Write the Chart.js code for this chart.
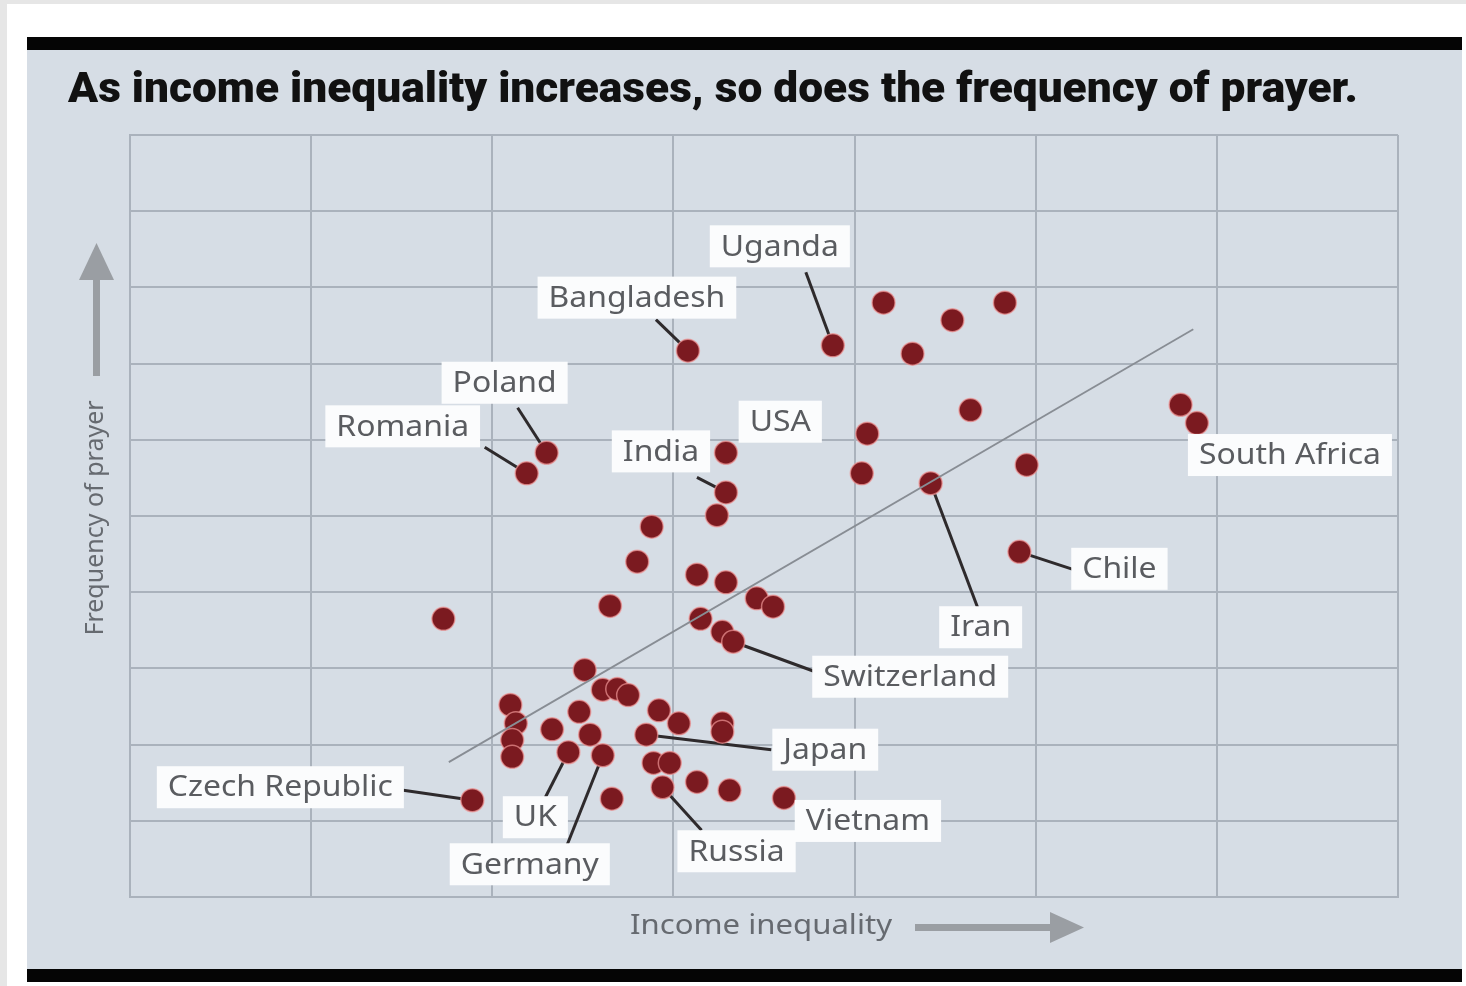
<!DOCTYPE html>
<html>
<head>
<meta charset="utf-8">
<script src="https://cdn.jsdelivr.net/npm/chart.js@4/dist/chart.umd.min.js"></script>
<style>
  html, body { margin: 0; padding: 0; background: #e6e6e6; }
  canvas { display: block; }
</style>
</head>
<body>
<canvas id="prayerChart" width="1466" height="986"></canvas>
<script>
// values (x: income inequality, y: frequency of prayer, arbitrary grid units)
const country = ["Uganda", "Bangladesh", "", "", "", "", "", "USA", "", "", "Iran", "", "India",
  "Poland", "Romania", "", "", "", "", "", "", "", "", "", "", "", "Switzerland", "Chile", "",
  "South Africa", "", "", "", "", "", "", "", "", "", "", "", "UK", "Germany", "", "", "", "",
  "Japan", "", "", "Russia", "", "", "Vietnam", "Czech Republic", ""];
const inequality = [3.88, 3.08, 4.16, 4.83, 4.54, 4.32, 4.64, 4.07, 3.29, 4.04, 4.42, 4.95, 3.29,
  2.30, 2.19, 3.24, 2.88, 2.80, 3.13, 3.29, 3.46, 3.55, 2.65, 1.73, 3.15, 3.27, 3.33, 4.91, 5.80,
  5.89, 2.51, 2.61, 2.69, 2.75, 2.10, 2.13, 2.11, 2.11, 2.48, 2.33, 2.54, 2.42, 2.61, 2.92, 3.03,
  3.27, 3.27, 2.85, 2.89, 2.98, 2.94, 3.13, 3.31, 3.61, 1.89, 2.66];
const prayer = [7.24, 7.17, 7.80, 7.80, 7.57, 7.13, 6.39, 6.08, 5.83, 5.56, 5.43, 5.67, 5.31,
  5.83, 5.56, 5.01, 4.86, 4.40, 4.23, 4.13, 3.92, 3.81, 3.82, 3.65, 3.65, 3.48, 3.35, 4.53, 6.46,
  6.22, 2.98, 2.72, 2.73, 2.65, 2.52, 2.28, 2.06, 1.84, 2.43, 2.20, 2.13, 1.90, 1.86, 2.45, 2.28,
  2.28, 2.17, 2.13, 1.76, 1.76, 1.44, 1.51, 1.40, 1.30, 1.27, 1.29];
const trendX = [1.76, 5.87];
const trendY = [1.77, 7.45];

// label boxes: offset of box centre and leader end from the dot, in pixels
const labelPlacement = {
  "Uganda": { dx: -53, dy: -99, lx: -27, ly: -73 },
  "Bangladesh": { dx: -51, dy: -53, lx: -32, ly: -31 },
  "Poland": { dx: -42, dy: -70, lx: -29, ly: -45 },
  "Romania": { dx: -124, dy: -47, lx: -42, ly: -26 },
  "India": { dx: -65, dy: -41, lx: -29, ly: -15 },
  "USA": { dx: -87, dy: -12 },
  "South Africa": { dx: 93, dy: 32 },
  "Chile": { dx: 100, dy: 17, lx: 55, ly: 18 },
  "Iran": { dx: 50, dy: 144, lx: 48, ly: 127 },
  "Switzerland": { dx: 177, dy: 35, lx: 82, ly: 30 },
  "Japan": { dx: 179, dy: 15, lx: 125, ly: 15 },
  "Czech Republic": { dx: -192, dy: -13, lx: -69, ly: -10 },
  "UK": { dx: -33, dy: 65, lx: -23, ly: 45 },
  "Germany": { dx: -73, dy: 109, lx: -37, ly: 93 },
  "Russia": { dx: 74, dy: 64, lx: 39, ly: 43 },
  "Vietnam": { dx: 84, dy: 23 }
};

const points = inequality.map((x, i) => ({ x: x, y: prayer[i] }));
const trend = trendX.map((x, i) => ({ x: x, y: trendY[i] }));

const LABEL_STRETCH = 1.1;

const frame = {
  id: "frame",
  beforeDraw(chart) {
    const ctx = chart.ctx;
    ctx.save();
    ctx.fillStyle = "#e6e6e6";
    ctx.fillRect(0, 0, 1466, 986);
    ctx.fillStyle = "#ffffff";
    ctx.fillRect(7, 4, 1459, 982);
    ctx.fillStyle = "#d6dde5";
    ctx.fillRect(27, 50, 1435, 920);
    ctx.fillStyle = "#050505";
    ctx.fillRect(27, 37, 1435, 13);
    ctx.fillRect(27, 969, 1435, 13);

    // title, squeezed to the width of the original
    ctx.fillStyle = "#111111";
    ctx.font = "900 43px Roboto";
    ctx.textBaseline = "alphabetic";
    const title = "As income inequality increases, so does the frequency of prayer.";
    const w = ctx.measureText(title).width;
    ctx.save();
    ctx.translate(68, 102);
    ctx.scale(1290 / w, 1);
    ctx.fillText(title, 0, 0);
    ctx.restore();

    // axis titles with arrows
    ctx.fillStyle = "#666a70";
    ctx.font = "28px 'Noto Sans'";
    ctx.textAlign = "center";
    ctx.textBaseline = "middle";
    ctx.save();
    ctx.translate(761, 926);
    ctx.scale(262 / ctx.measureText("Income inequality").width, 1);
    ctx.fillText("Income inequality", 0, 0);
    ctx.restore();
    ctx.fillStyle = "#9a9ea3";
    ctx.fillRect(915, 924, 140, 7);
    ctx.beginPath();
    ctx.moveTo(1050, 912); ctx.lineTo(1084, 927.5); ctx.lineTo(1050, 943); ctx.closePath();
    ctx.fill();

    ctx.save();
    ctx.translate(96, 518);
    ctx.rotate(-Math.PI / 2);
    ctx.fillStyle = "#666a70";
    ctx.font = "25px 'Noto Sans'";
    ctx.fillText("Frequency of prayer", 0, 0);
    ctx.restore();
    ctx.fillStyle = "#9a9ea3";
    ctx.fillRect(93, 275, 7, 101);
    ctx.beginPath();
    ctx.moveTo(79, 280); ctx.lineTo(96.5, 243); ctx.lineTo(114, 280); ctx.closePath();
    ctx.fill();
    ctx.restore();
  },
  beforeDatasetsDraw(chart) {
    const ctx = chart.ctx;
    const meta = chart.getDatasetMeta(1);
    ctx.save();
    ctx.strokeStyle = "#2e2a2c";
    ctx.lineWidth = 3;
    country.forEach((name, i) => {
      const p = labelPlacement[name];
      if (!p || p.lx === undefined) return;
      const el = meta.data[i];
      ctx.beginPath();
      ctx.moveTo(el.x, el.y);
      ctx.lineTo(el.x + p.lx, el.y + p.ly);
      ctx.stroke();
    });
    ctx.restore();
  },
  afterDatasetsDraw(chart) {
    const ctx = chart.ctx;
    const meta = chart.getDatasetMeta(1);
    ctx.save();
    ctx.font = "29px 'Noto Sans'";
    ctx.textAlign = "center";
    ctx.textBaseline = "middle";
    country.forEach((name, i) => {
      const p = labelPlacement[name];
      if (!p) return;
      const el = meta.data[i];
      const cx = el.x + p.dx, cy = el.y + p.dy;
      const tw = ctx.measureText(name).width * LABEL_STRETCH + 22;
      ctx.fillStyle = "#fbfcfd";
      ctx.fillRect(cx - tw / 2, cy - 21, tw, 42);
      ctx.fillStyle = "#5a5c60";
      ctx.save();
      ctx.translate(cx, cy + 1);
      ctx.scale(LABEL_STRETCH, 1);
      ctx.fillText(name, 0, 0);
      ctx.restore();
    });
    ctx.restore();
  }
};

new Chart(document.getElementById("prayerChart"), {
  type: "scatter",
  data: {
    datasets: [
      {
        type: "line",
        data: trend,
        borderColor: "#888d94",
        borderWidth: 1.8,
        pointRadius: 0,
        fill: false
      },
      {
        data: points,
        backgroundColor: "#7b1a20",
        borderColor: "rgba(240,150,150,0.7)",
        borderWidth: 1.5,
        pointRadius: 11.5,
        pointHoverRadius: 11.5
      }
    ]
  },
  options: {
    responsive: false,
    animation: false,
    devicePixelRatio: 1,
    layout: { padding: { left: 130, top: 135, right: 68, bottom: 89 } },
    plugins: {
      legend: { display: false },
      tooltip: { enabled: false }
    },
    scales: {
      x: {
        min: 0, max: 7,
        ticks: { display: false, stepSize: 1 },
        grid: { color: "#aab2bc", lineWidth: 2, drawTicks: false },
        border: { color: "#aab2bc", width: 2 }
      },
      y: {
        min: 0, max: 10,
        ticks: { display: false, stepSize: 1 },
        grid: { color: "#aab2bc", lineWidth: 2, drawTicks: false },
        border: { color: "#aab2bc", width: 2 }
      }
    }
  },
  plugins: [frame]
});
</script>
</body>
</html>
